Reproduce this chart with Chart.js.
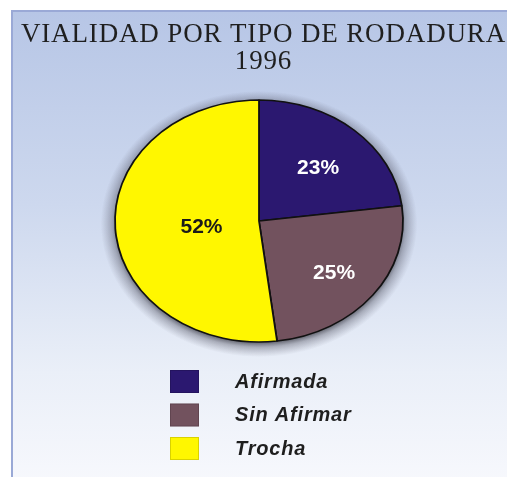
<!DOCTYPE html>
<html>
<head>
<meta charset="utf-8">
<title>Vialidad por tipo de rodadura 1996</title>
<script src="https://cdn.jsdelivr.net/npm/chart.js@4.4.0/dist/chart.umd.min.js"></script>
<style>
    html, body { margin: 0; padding: 0; background: #fff; }
    body { width: 507px; height: 477px; position: relative; overflow: hidden; }
    .frame {
        position: absolute; left: 11px; top: 10px; width: 510px; height: 480px;
        border-left: 2px solid #9aa9d6; border-top: 2px solid #9aa9d6;
        background: linear-gradient(to bottom, #b7c6e6 0%, #cdd8ee 40%, #eaeff8 75%, #f8f9fd 100%);
    }
    #roadChart { position: absolute; left: 0; top: 0; }
</style>
</head>
<body>
<div class="frame"></div>
<canvas id="roadChart" width="507" height="477"></canvas>
<script>
// Data
const categories = ['Afirmada', 'Sin Afirmar', 'Trocha'];
const shares = [23, 25, 52];
const chartTitle = ['VIALIDAD POR TIPO DE RODADURA', '1996'];

// Styles
const sliceColors = ['#2b1870', '#72525e', '#fff700'];
const labelColors = ['#ffffff', '#ffffff', '#1a1a1a'];
const labelDepth = [0.62, 0.66, 0.40];
const stretchX = 1.19;     // pie is drawn as an ellipse
const pieShiftX = -4.5;

// Widen the title letters a little (the original is stretched)
const titleSpacing = {
    id: 'titleSpacing',
    beforeDraw(chart) { chart.ctx.letterSpacing = '0.85px'; },
    beforeDatasetsDraw(chart) { chart.ctx.letterSpacing = '0px'; }
};

// Squash the round pie into an ellipse, with a soft halo behind it
const ellipsePie = {
    id: 'ellipsePie',
    beforeDatasetsDraw(chart) {
        const arc = chart.getDatasetMeta(0).data[0];
        const ctx = chart.ctx;
        ctx.save();
        ctx.translate(arc.x + pieShiftX, arc.y);
        ctx.scale(stretchX, 1);
        ctx.translate(-arc.x, -arc.y);

        const r = arc.outerRadius;
        const cy = arc.y + 3;
        const halo = ctx.createRadialGradient(arc.x, cy, r - 3, arc.x, cy, r + 12);
        halo.addColorStop(0, 'rgba(40, 40, 50, 0.7)');
        halo.addColorStop(0.35, 'rgba(60, 60, 75, 0.35)');
        halo.addColorStop(1, 'rgba(90, 90, 110, 0)');
        ctx.beginPath();
        ctx.arc(arc.x, cy, r + 12, 0, Math.PI * 2);
        ctx.fillStyle = halo;
        ctx.fill();
    },
    afterDatasetsDraw(chart) {
        const ctx = chart.ctx;
        ctx.restore();

        const meta = chart.getDatasetMeta(0);
        ctx.save();
        ctx.font = 'bold 21px "Liberation Sans", Arial, sans-serif';
        ctx.textAlign = 'center';
        ctx.textBaseline = 'middle';
        meta.data.forEach((a, i) => {
            const mid = (a.startAngle + a.endAngle) / 2;
            const r = a.outerRadius * labelDepth[i];
            const x = a.x + pieShiftX + Math.cos(mid) * r * stretchX;
            const y = a.y + Math.sin(mid) * r + 3;
            ctx.fillStyle = labelColors[i];
            ctx.fillText(shares[i] + '%', x, y);
        });
        ctx.restore();
    }
};

// Legend as a single column under the pie
const columnLegend = {
    id: 'columnLegend',
    afterDraw(chart) {
        const ctx = chart.ctx;
        const ds = chart.data.datasets[0];
        const top = chart.chartArea.bottom + 18;
        ctx.save();
        ctx.font = 'italic bold 20px "Liberation Sans", Arial, sans-serif';
        ctx.letterSpacing = '0.8px';
        ctx.textAlign = 'left';
        ctx.textBaseline = 'middle';
        chart.data.labels.forEach((label, i) => {
            const y = top + i * 33.5;
            ctx.fillStyle = ds.backgroundColor[i];
            ctx.fillRect(170, y, 29, 23);
            ctx.strokeStyle = 'rgba(0, 0, 0, 0.15)';
            ctx.lineWidth = 1;
            ctx.strokeRect(170.5, y + 0.5, 28, 22);
            ctx.fillStyle = '#1e1e1e';
            ctx.fillText(label, 235, y + 12);
        });
        ctx.restore();
    }
};

new Chart(document.getElementById('roadChart'), {
    type: 'pie',
    data: {
        labels: categories,
        datasets: [{
            data: shares,
            backgroundColor: sliceColors,
            borderColor: '#111',
            borderWidth: 1.5,
            radius: 121,
            clip: false
        }]
    },
    options: {
        responsive: false,
        animation: false,
        layout: { padding: { left: 20, right: 0, top: 0, bottom: 125 } },
        plugins: {
            legend: { display: false },
            tooltip: { enabled: false },
            title: {
                display: true,
                text: chartTitle,
                color: '#1f1f1f',
                font: { family: '"Liberation Serif", "Times New Roman", serif', size: 27, weight: 'normal', lineHeight: 1.0 },
                padding: { top: 21, bottom: 15 }
            }
        }
    },
    plugins: [titleSpacing, ellipsePie, columnLegend]
});
</script>
</body>
</html>
